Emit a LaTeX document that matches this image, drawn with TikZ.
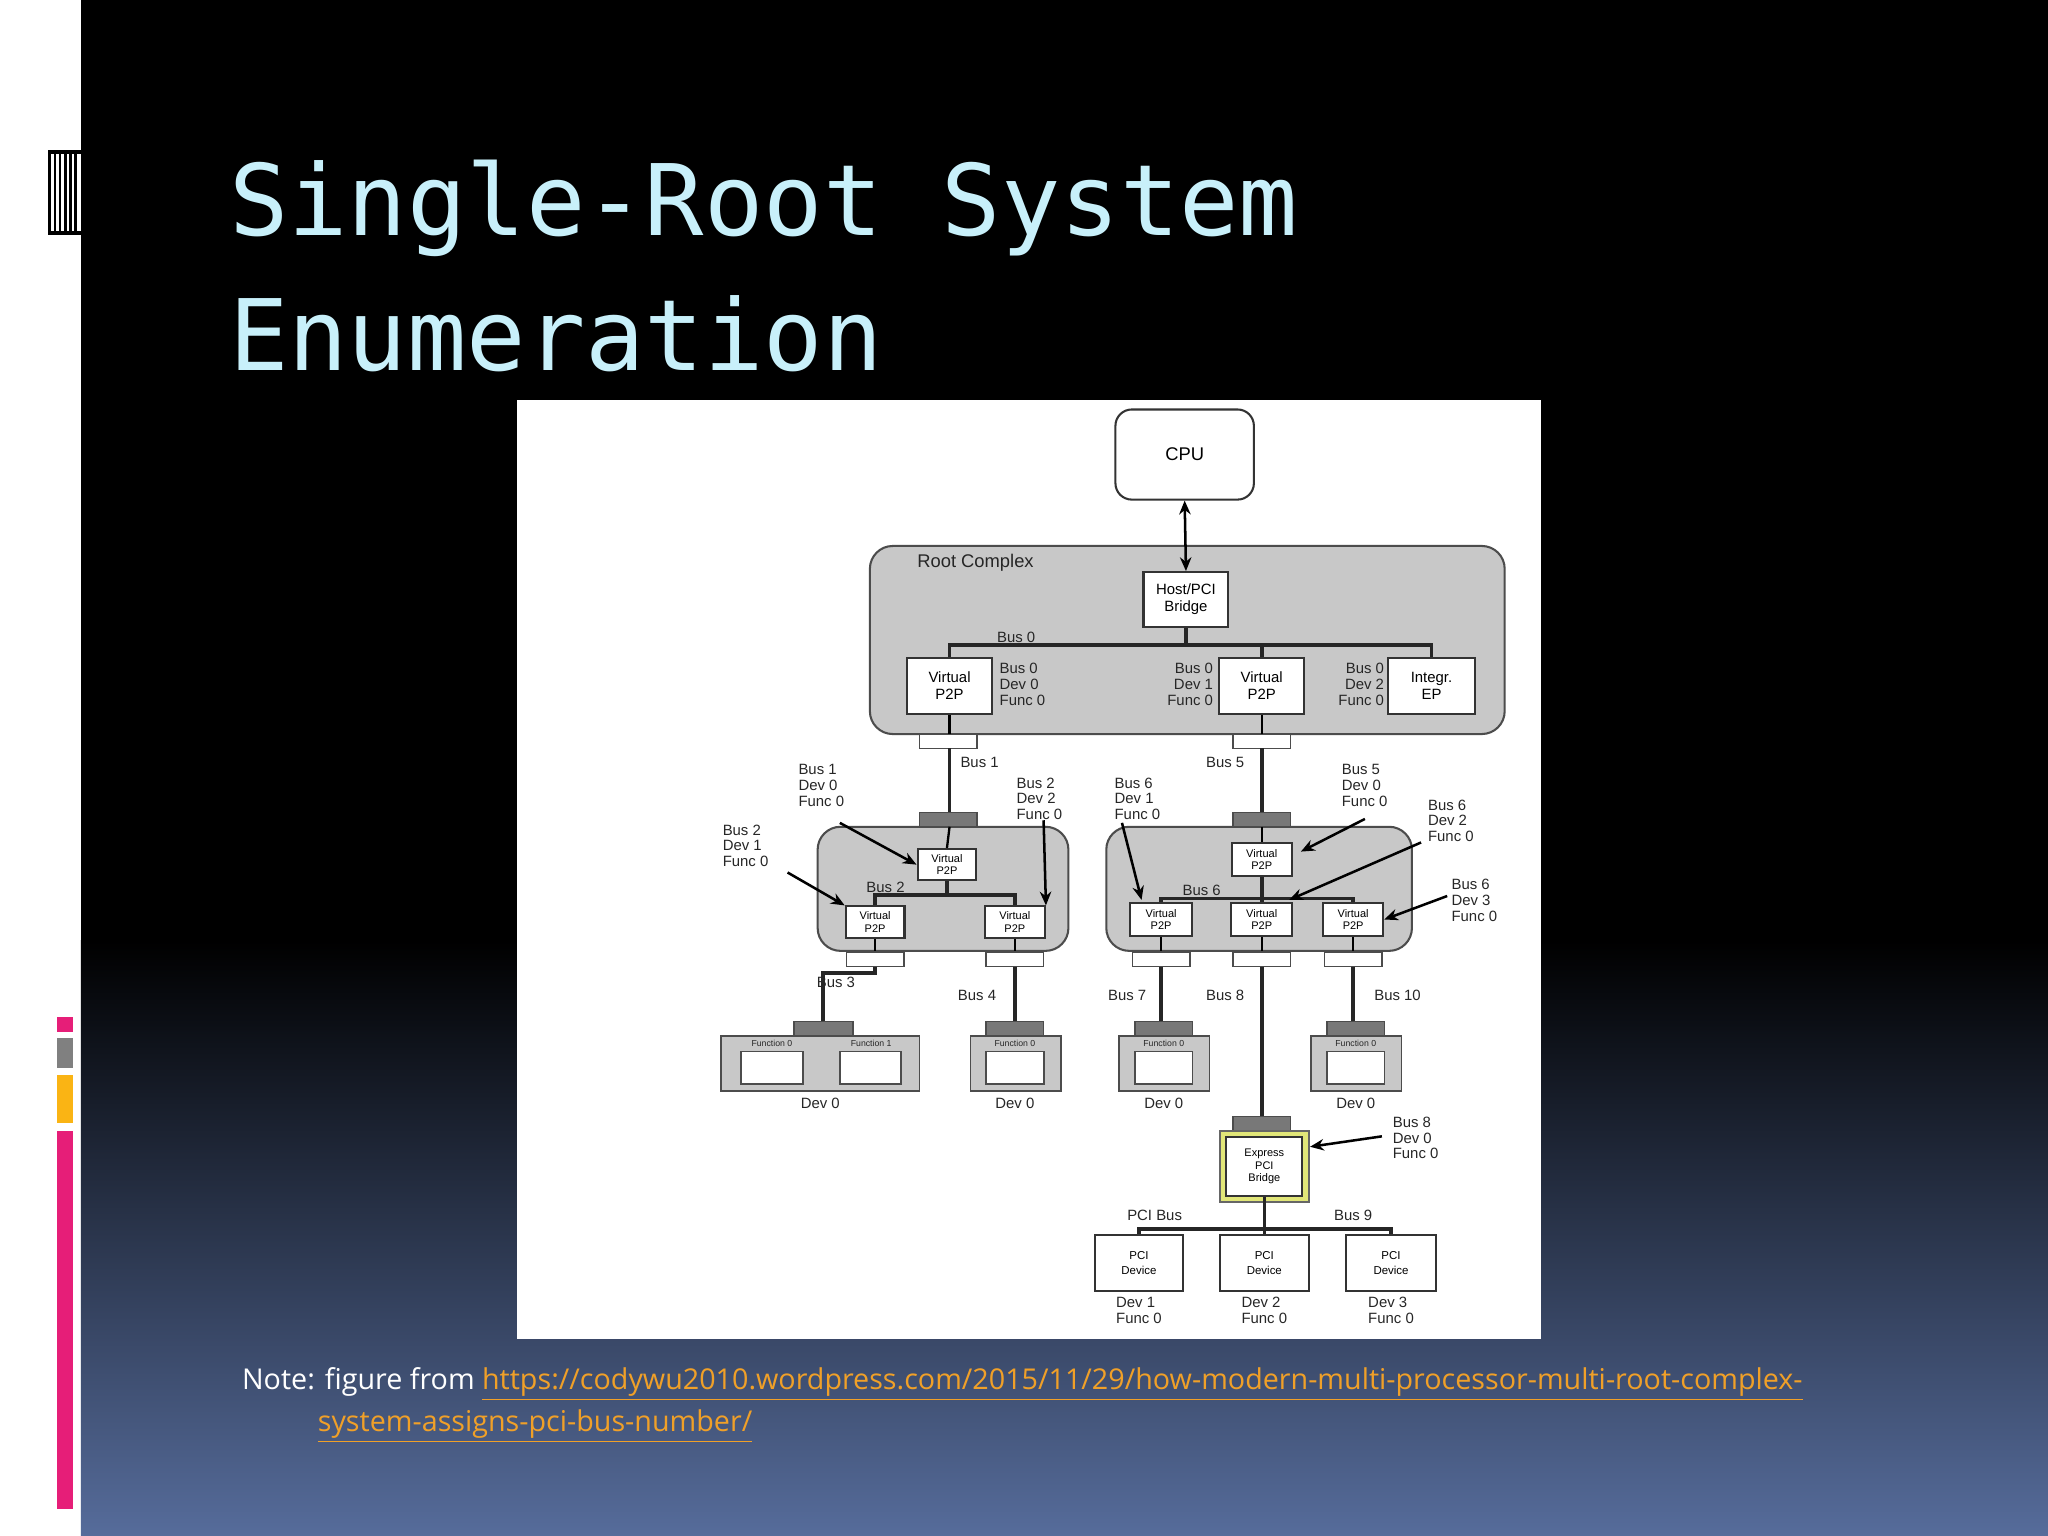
\documentclass[tikz,border=0pt]{standalone}
\usepackage{fontspec}
\setmainfont{Liberation Sans}
\newfontfamily\titlefont{DejaVu Sans Mono}
\newfontfamily\notefont{Open Sans}
\usetikzlibrary{arrows.meta}
\definecolor{titlec}{RGB}{200,240,250}
\definecolor{botc}{RGB}{86,108,155}
\definecolor{cgray}{RGB}{200,200,200}
\definecolor{dgray}{RGB}{120,120,120}
\definecolor{linkc}{RGB}{240,160,40}
\definecolor{pinkc}{RGB}{230,30,120}
\definecolor{orc}{RGB}{250,180,20}
\definecolor{yel}{RGB}{225,230,120}
\def\u{0.02cm}
\tikzset{
 box/.style={draw=black!80,fill=white,line width=0.9pt,inner sep=0pt,align=center,font=\fontsize{6.5pt}{7.5pt}\selectfont},
 sbox/.style={box,font=\fontsize{4.8pt}{5.5pt}\selectfont},
 grp/.style={draw=black!70,fill=cgray,line width=0.9pt,rounded corners=0.35cm},
 port/.style={draw=black!70,fill=white,line width=0.6pt},
 dport/.style={draw=black!70,fill=dgray,line width=0.6pt},
 bus/.style={line width=1.6pt,black!85},
 lbl/.style={font=\fontsize{6.5pt}{6.8pt}\selectfont,align=left,inner sep=0pt,text=black!85},
 arr/.style={-{Stealth[length=6pt,width=5pt]},line width=1.1pt},
}
\begin{document}
\begin{tikzpicture}[x=0.02cm,y=-0.02cm]
\useasboundingbox (0,0) rectangle (1568,1176);
% background
\fill[white] (0,0) rectangle (1568,1176);
\fill[black] (62,0) rectangle (1568,720);
\shade[top color=black,bottom color=botc] (62,720) rectangle (1568,1176);
% left decoration
\foreach \x in {37,41,45,49,53,57}{\fill[black] (\x,115) rectangle ++(2,65);}
\fill[black] (37,115) rectangle (62,118);\fill[black] (37,177) rectangle (62,180);
\fill[pinkc] (44,779) rectangle (56,790);
\fill[gray] (44,795) rectangle (56,818);
\fill[orc] (44,823) rectangle (56,860);
\fill[pinkc] (44,866) rectangle (56,1155);
% title
\node[anchor=base west,inner sep=0pt,text=titlec,font=\titlefont\fontsize{43pt}{50pt}\selectfont] (t1) at (175,180) {Single-Root System};
\node[anchor=base west,inner sep=0pt,text=titlec,font=\titlefont\fontsize{43pt}{50pt}\selectfont] (t2) at (175,284) {Enumeration};
% note
\node[anchor=base west,inner sep=0pt,text=white,font=\notefont\fontsize{12.5pt}{14pt}\selectfont] (n1) at (185,1064) {Note: figure from \textcolor{linkc}{\underline{https://codywu2010.wordpress.com/2015/11/29/how-modern-multi-processor-multi-root-complex-}}};
\node[anchor=base west,inner sep=0pt,text=linkc,font=\notefont\fontsize{12.5pt}{14pt}\selectfont] (n2) at (243,1096) {\underline{system-assigns-pci-bus-number/}};
% diagram panel
\fill[white] (396,306) rectangle (1180,1025);
% CPU
\node[box,rounded corners=0.25cm,minimum width=106*\u,minimum height=69*\u,font=\fontsize{8pt}{9pt}\selectfont] (cpu) at (907,348) {CPU};
% root complex
\draw[grp] (666,418) rectangle (1152,562);
\node[lbl,anchor=north west,font=\fontsize{8pt}{9pt}\selectfont] (rcl) at (702,424) {Root Complex};
\node[box,minimum width=65*\u,minimum height=42*\u] (hb) at (908,459) {Host/PCI\\Bridge};
\draw[arr,{Stealth[length=6pt,width=5pt]}-{Stealth[length=6pt,width=5pt]}] (cpu.south) -- (hb.north);
\node[box,minimum width=65*\u,minimum height=43*\u] (v0) at (727,525) {Virtual\\P2P};
\node[box,minimum width=65*\u,minimum height=43*\u] (v1) at (966,525) {Virtual\\P2P};
\node[box,minimum width=66*\u,minimum height=43*\u] (ep) at (1096,525) {Integr.\\EP};
\draw[bus] (hb.south) -- (908,494);
\draw[bus] (v0.north) |- (908,494) -| (ep.north);
\draw[bus] (v1.north) -- (966,494);
\node[lbl,anchor=south] at (778,492) {Bus 0};
\node[lbl,anchor=west] at (765,524) {Bus 0\\Dev 0\\Func 0};
\node[lbl,anchor=east,align=right] at (929,524) {Bus 0\\Dev 1\\Func 0};
\node[lbl,anchor=east,align=right] at (1060,524) {Bus 0\\Dev 2\\Func 0};
% ports under root
\draw[port] (704,562) rectangle (748,573);
\draw[port] (944,562) rectangle (988,573);
\coordinate (p0) at (727,573);
\coordinate (p1) at (966,573);
\draw[line width=1pt] (v0.south) -- (727,562);
\draw[line width=1pt] (v1.south) -- (966,562);
% left switch
\draw[bus] (p0) -- (727,622);
\draw[bus] (p1) -- (966,622);
\node[lbl] at (750,584) {Bus 1};
\node[lbl] at (938,584) {Bus 5};
\draw[grp] (626,633) rectangle (818,728);
\draw[dport] (704,622) rectangle (748,633);
\node[sbox,minimum width=45*\u,minimum height=24*\u] (ls) at (725,662) {Virtual\\P2P};
\draw[line width=1pt] (727,633) -- (ls.north);
\node[sbox,minimum width=45*\u,minimum height=24*\u] (la) at (670,706) {Virtual\\P2P};
\node[sbox,minimum width=46*\u,minimum height=24*\u] (lb) at (777,706) {Virtual\\P2P};
\draw[bus] (ls.south) -- (725,685);
\draw[bus] (la.north) |- (725,685) -| (lb.north);
\node[lbl,anchor=south] at (678,684) {Bus 2};
\draw[line width=1pt] (la.south) -- (670,729);
\draw[line width=1pt] (lb.south) -- (777,729);
\draw[port] (648,729) rectangle (692,740);
\draw[port] (755,729) rectangle (799,740);
% right switch
\draw[grp] (847,633) rectangle (1081,728);
\draw[dport] (944,622) rectangle (988,633);
\node[sbox,minimum width=46*\u,minimum height=25*\u] (rs) at (966,658) {Virtual\\P2P};
\draw[line width=1pt] (966,633) -- (rs.north);
\node[sbox,minimum width=47*\u,minimum height=25*\u] (ra) at (889,704) {Virtual\\P2P};
\node[sbox,minimum width=47*\u,minimum height=25*\u] (rb) at (966,704) {Virtual\\P2P};
\node[sbox,minimum width=46*\u,minimum height=25*\u] (rc) at (1036,704) {Virtual\\P2P};
\draw[bus] (rs.south) -- (rb.north);
\draw[bus] (ra.north) |- (966,688) -| (rc.north);
\node[lbl,anchor=south] at (920,686) {Bus 6};
\foreach \n/\x in {ra/889,rb/966,rc/1036}{
 \draw[line width=1pt] (\n.south) -- (\x,729);
 \draw[port] (\x-22,729) rectangle (\x+22,740);}
% end devices
\draw[bus] (670,740) -- (670,745) -- (630,745) -- (630,782);
\node[lbl] at (640,752) {Bus 3};
\draw[bus] (777,740) -- (777,782);
\node[lbl] at (748,762) {Bus 4};
\draw[bus] (889,740) -- (889,782);
\node[lbl] at (863,762) {Bus 7};
\draw[bus] (1036,740) -- (1036,782);
\node[lbl] at (1070,762) {Bus 10};
\draw[bus] (966,740) -- (966,855);
\node[lbl] at (938,762) {Bus 8};
% dev boxes
\draw[dport] (608,782) rectangle (653,793);
\draw[draw=black!70,fill=cgray,line width=0.8pt] (552,793) rectangle (704,835);
\draw[port,line width=0.8pt] (567,805) rectangle (615,830);
\draw[port,line width=0.8pt] (643,805) rectangle (690,830);
\node[lbl,font=\fontsize{3.8pt}{4pt}\selectfont] at (591,799) {Function 0};
\node[lbl,font=\fontsize{3.8pt}{4pt}\selectfont] at (667,799) {Function 1};
\node[lbl] (d0) at (628,845) {Dev 0};
\foreach \x in {777,891,1038}{
 \draw[dport] (\x-22,782) rectangle (\x+22,793);
 \draw[draw=black!70,fill=cgray,line width=0.8pt] (\x-34,793) rectangle (\x+35,835);
 \draw[port,line width=0.8pt] (\x-22,805) rectangle (\x+22,830);
 \node[lbl,font=\fontsize{3.8pt}{4pt}\selectfont] at (\x,799) {Function 0};
 \node[lbl] at (\x,845) {Dev 0};}
% express bridge
\draw[dport] (944,855) rectangle (988,866);
\draw[draw=black!60,fill=yel,line width=0.8pt] (934,866) rectangle (1002,920);
\node[sbox,minimum width=58*\u,minimum height=45*\u,fill=white] (xb) at (968,893) {Express\\PCI\\Bridge};
\draw[bus] (xb.south) -- (968,941);
\node[box,minimum width=68*\u,minimum height=43*\u,font=\fontsize{5pt}{6.5pt}\selectfont] (pa) at (872,967) {PCI\\Device};
\node[box,minimum width=68*\u,minimum height=43*\u,font=\fontsize{5pt}{6.5pt}\selectfont] (pb) at (968,967) {PCI\\Device};
\node[box,minimum width=69*\u,minimum height=43*\u,font=\fontsize{5pt}{6.5pt}\selectfont] (pc) at (1065,967) {PCI\\Device};
\draw[bus] (pa.north) |- (968,941) -| (pc.north);
\draw[bus] (pb.north) -- (968,941);
\node[lbl,anchor=south] at (884,935) {PCI Bus};
\node[lbl,anchor=south] at (1036,935) {Bus 9};
\node[lbl,anchor=north] at (872,993) {Dev 1\\Func 0};
\node[lbl,anchor=north] at (968,993) {Dev 2\\Func 0};
\node[lbl,anchor=north] at (1065,993) {Dev 3\\Func 0};
% callouts
\node[lbl,anchor=north west] (c1) at (611,585) {Bus 1\\Dev 0\\Func 0};
\draw[arr] (643,630) -- (ls.west);
\node[lbl,anchor=north west] (c2) at (778,595) {Bus 2\\Dev 2\\Func 0};
\draw[arr] (799,628) -- (lb.north east);
\node[lbl,anchor=north west] (c3) at (553,631) {Bus 2\\Dev 1\\Func 0};
\draw[arr] (603,668) -- (la.north west);
\node[lbl,anchor=north west] (c4) at (853,595) {Bus 6\\Dev 1\\Func 0};
\draw[arr] (859,630) -- (874,689);
\node[lbl,anchor=north west] (c5) at (1027,585) {Bus 5\\Dev 0\\Func 0};
\draw[arr] (1045,627) -- (996,652);
\node[lbl,anchor=north west] (c6) at (1093,612) {Bus 6\\Dev 2\\Func 0};
\draw[arr] (1088,645) -- (987,689);
\node[lbl,anchor=north west] (c7) at (1111,673) {Bus 6\\Dev 3\\Func 0};
\draw[arr] (1108,686) -- (rc.east);
\node[lbl,anchor=north west] (c8) at (1066,855) {Bus 8\\Dev 0\\Func 0};
\draw[arr] (1058,870) -- (1003,878);
\end{tikzpicture}
\end{document}
